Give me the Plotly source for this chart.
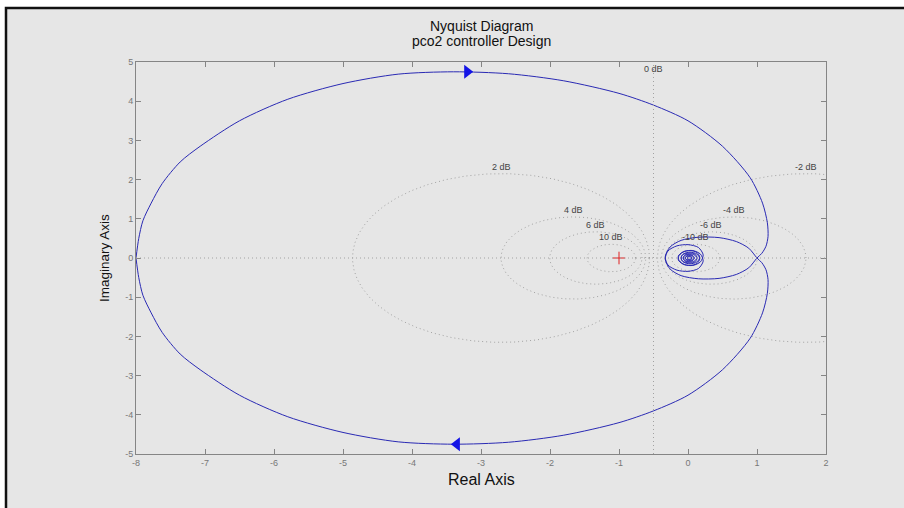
import numpy as np
import plotly.graph_objects as go

# ---------------- data ----------------
# positive-frequency branch of the Nyquist curve (real, imag)
pos_re = [-8.0, -7.96, -7.9, -7.78, -7.62, -7.36, -7.07, -6.5, -5.8, -5.0, -4.2,
          -3.4, -2.6, -1.8, -1.0, -0.5, 0.0, 0.5, 0.9, 1.08, 1.15, 1.16,
          1.13, 1.07, 1.0,
          0.88, 0.7, 0.45, 0.15, -0.1, -0.26, -0.33,
          -0.29, -0.16, 0.0, 0.15, 0.22, 0.18, 0.07, -0.05, -0.13,
          -0.14, -0.08, 0.03, 0.13, 0.17, 0.13, 0.03, -0.06, -0.1,
          -0.08, 0.02, 0.1, 0.13, 0.1, 0.02, -0.04, -0.07,
          -0.05, 0.02, 0.07, 0.09, 0.06, 0.01, -0.03, -0.04,
          -0.02, 0.02, 0.05, 0.05, 0.03, 0.0, -0.01, 0.0]
pos_im = [0.0, 0.5, 0.95, 1.4, 1.9, 2.45, 2.85, 3.5, 4.05, 4.45, 4.69,
          4.75, 4.7, 4.52, 4.2, 3.9, 3.5, 2.85, 2.05, 1.4, 0.9, 0.55,
          0.3, 0.12, 0.0,
          -0.25, -0.42, -0.52, -0.53, -0.45, -0.28, -0.03,
          0.18, 0.31, 0.34, 0.27, 0.08, -0.1, -0.19, -0.17, -0.06,
          0.05, 0.15, 0.19, 0.14, 0.02, -0.1, -0.15, -0.11, -0.02,
          0.08, 0.13, 0.1, 0.01, -0.07, -0.11, -0.08, 0.0,
          0.06, 0.09, 0.06, 0.0, -0.05, -0.07, -0.04, 0.01,
          0.04, 0.05, 0.03, -0.01, -0.03, -0.03, -0.01, 0.0]

# direction arrows on the curve
arrow_re = [-3.2, -3.35]
arrow_im = [4.75, -4.75]
arrow_sym = ["triangle-right", "triangle-left"]

# M-circle grid levels (dB)
m_db = [-10, -6, -4, -2, 2, 4, 6, 10]
m_labels = ["-10 dB", "-6 dB", "-4 dB", "-2 dB", "2 dB", "4 dB", "6 dB", "10 dB"]

x_ticks = [-8, -7, -6, -5, -4, -3, -2, -1, 0, 1, 2]
y_ticks = [-5, -4, -3, -2, -1, 0, 1, 2, 3, 4, 5]

critical_re = [-1]
critical_im = [0]

# ---------------- figure ----------------
W, H = 904, 508
L, R, T, B = 136, 826, 62, 454


def px(xp):
    return (xp - L) / (R - L)


def py(yp):
    return (B - yp) / (B - T)


GRID = "#a2a2a2"
GRID_DASH = "1px,3px"
LINE = "#2a2ab4"
FONT = "Liberation Sans"

fig = go.Figure()

# M-circles (grid)
th = np.linspace(0, 2 * np.pi, 721)
for db, lab in zip(m_db, m_labels):
    M = 10 ** (db / 20)
    c = -M ** 2 / (M ** 2 - 1)
    r = abs(M / (M ** 2 - 1))
    fig.add_trace(go.Scatter(x=c + r * np.cos(th), y=r * np.sin(th), mode="lines",
                             line=dict(color=GRID, width=1, dash=GRID_DASH),
                             hoverinfo="skip", showlegend=False))
    fig.add_annotation(x=c, y=r, text=lab, showarrow=False, xanchor="center",
                       yanchor="bottom", font=dict(family=FONT, size=9, color="#444"))

# 0 dB line and real axis line
fig.add_shape(type="line", xref="x", yref="paper", x0=-0.5, x1=-0.5, y0=0, y1=1,
              line=dict(color=GRID, width=1, dash=GRID_DASH))
fig.add_shape(type="line", xref="paper", yref="y", x0=0, x1=1, y0=0, y1=0,
              line=dict(color=GRID, width=1, dash=GRID_DASH))
fig.add_annotation(x=-0.5, y=4.65, text="0 dB", showarrow=False, xanchor="center",
                   yanchor="bottom", font=dict(family=FONT, size=9, color="#444"))

# Nyquist curve: positive and mirrored negative frequencies
fig.add_trace(go.Scatter(x=pos_re, y=pos_im, mode="lines",
                         line=dict(color=LINE, width=1, shape="spline", smoothing=0.8),
                         hoverinfo="skip", showlegend=False))
fig.add_trace(go.Scatter(x=pos_re, y=[-v for v in pos_im], mode="lines",
                         line=dict(color=LINE, width=1, shape="spline", smoothing=0.8),
                         hoverinfo="skip", showlegend=False))

fig.add_trace(go.Scatter(x=arrow_re, y=arrow_im, mode="markers",
                         marker=dict(symbol=arrow_sym, size=12, color="#1414e6",
                                     line=dict(width=0)),
                         hoverinfo="skip", showlegend=False))

fig.add_trace(go.Scatter(x=critical_re, y=critical_im, mode="markers",
                         marker=dict(symbol="cross-thin", size=9,
                                     line=dict(color="#e02020", width=1)),
                         hoverinfo="skip", showlegend=False))

# figure panel (grey area with black frame)
fig.add_shape(type="rect", xref="paper", yref="paper", layer="below",
              x0=px(6), x1=px(915), y0=py(520), y1=py(8),
              fillcolor="#e6e6e6", line=dict(color="#111", width=2.5))


def label(text, x, y, size, angle=0):
    fig.add_annotation(xref="paper", yref="paper", x=x, y=y, text=text,
                       xanchor="center", yanchor="middle", textangle=angle,
                       showarrow=False, font=dict(family=FONT, size=size, color="#111"))


label("Nyquist Diagram", 0.5, py(26), 14)
label("pco2 controller Design", 0.5, py(41), 14)
label("Real Axis", 0.5, py(479), 16)
label("Imaginary Axis", px(104), 0.5, 13.5, angle=-90)

axis_common = dict(showgrid=False, zeroline=False, showline=True, mirror="ticks",
                   linecolor="#858585", linewidth=1, ticks="inside", ticklen=5,
                   tickcolor="#858585", tickfont=dict(family=FONT, size=9, color="#777"))

fig.update_layout(
    width=W, height=H,
    margin=dict(l=L, r=W - R, t=T, b=H - B),
    paper_bgcolor="white", plot_bgcolor="#e6e6e6",
    xaxis=dict(range=[-8, 2], tickvals=x_ticks, ticktext=[str(v) for v in x_ticks], **axis_common),
    yaxis=dict(range=[-5, 5], tickvals=y_ticks, ticktext=[str(v) for v in y_ticks], **axis_common),
    showlegend=False,
)

fig.write_html("out.html", config={"displayModeBar": False},
               post_script="document.body.style.margin='0';")
